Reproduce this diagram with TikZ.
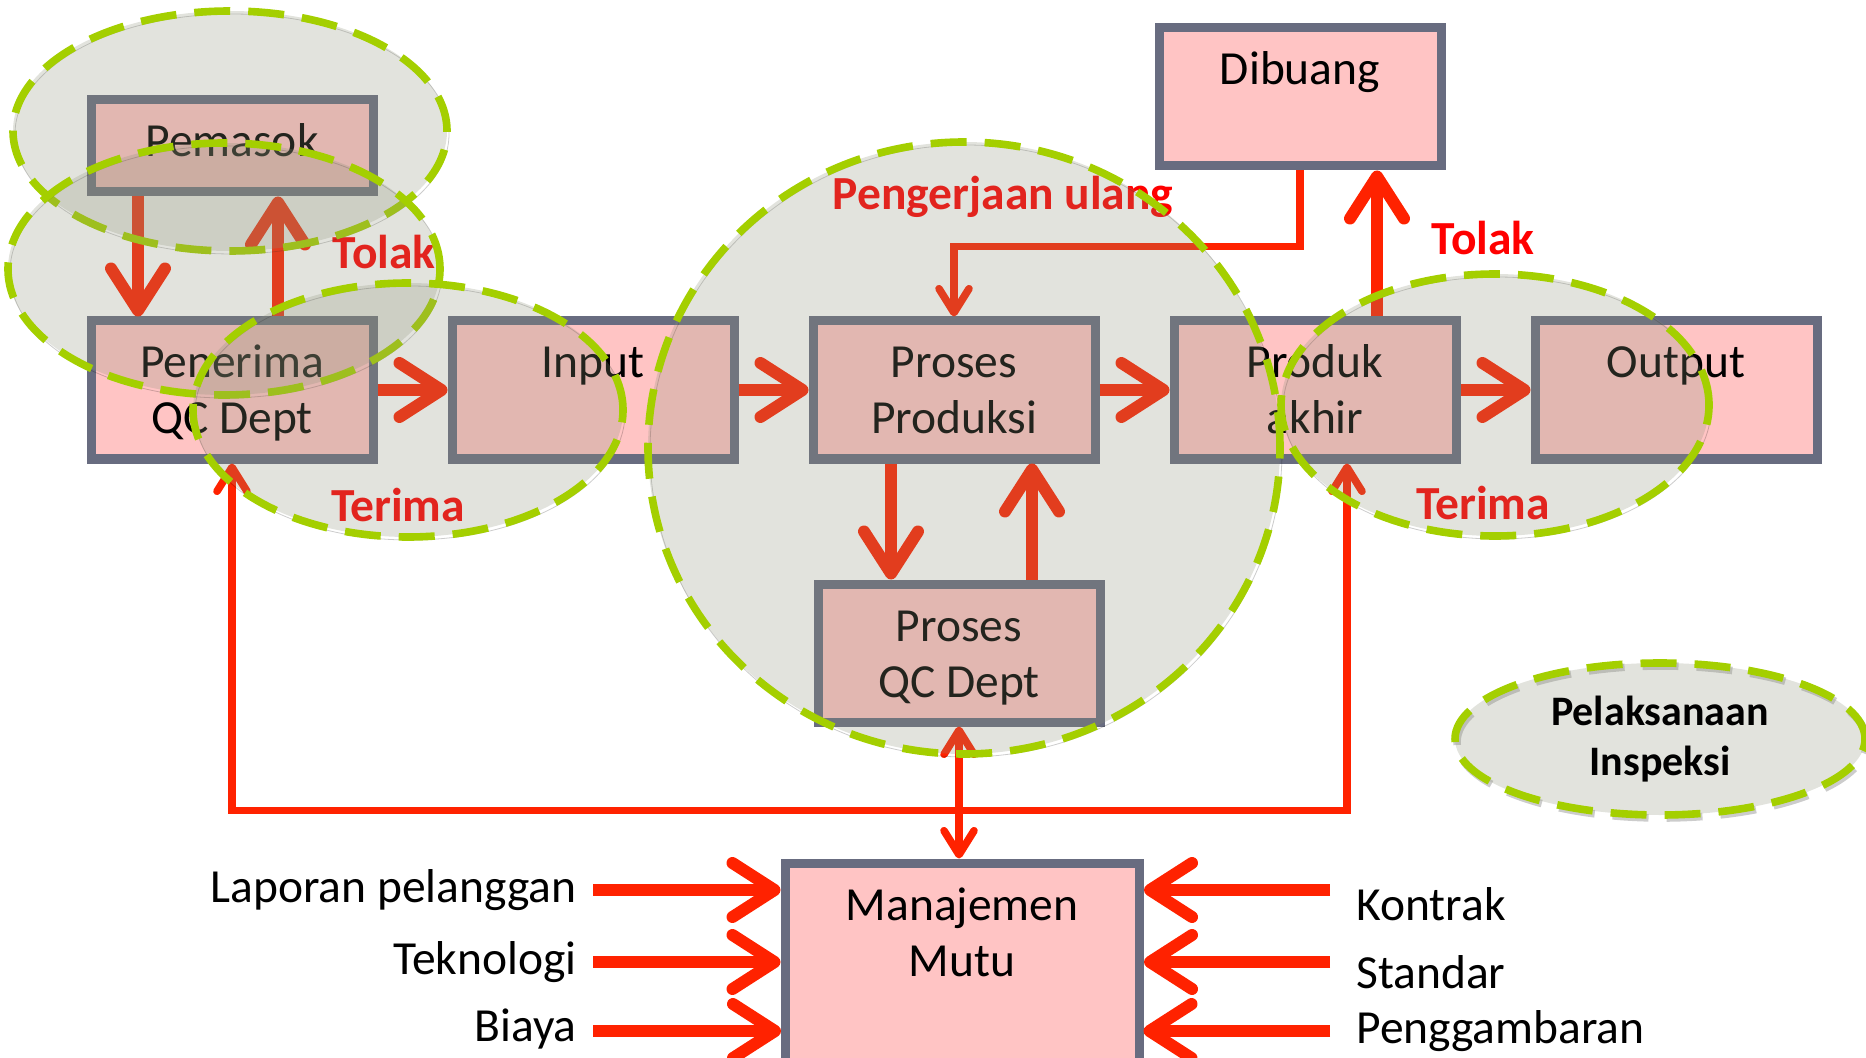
\documentclass[tikz,border=0pt]{standalone}
\usepackage{fontspec}
\setmainfont{Carlito}
\usepackage{xcolor}
\usetikzlibrary{arrows.meta,positioning,calc,shapes.geometric}

\definecolor{boxfill}{RGB}{255,196,196}
\definecolor{boxline}{RGB}{104,108,128}
\definecolor{arrowred}{RGB}{255,34,0}
\definecolor{labelred}{RGB}{255,0,0}
\definecolor{zonegreen}{RGB}{164,207,0}
\definecolor{zonegray}{RGB}{141,145,121}

\tikzset{
  bigtip/.tip={Straight Barb[length=21pt,width=27pt,round]},
  thintip/.tip={Straight Barb[length=12pt,width=15pt,round]},
  box/.style={draw=boxline,fill=boxfill,line width=4.5pt,inner sep=0pt,
    minimum width=141pt,align=center,text height=28.5pt,text depth=40.5pt,
    font=\fontsize{23.75}{28}\selectfont},
  twolines/.style={text height=56.5pt,text depth=12.5pt},
  bigarrow/.style={draw=arrowred,line width=6pt,-bigtip},
  thinarrow/.style={draw=arrowred,line width=3.8pt,-thintip},
  tag/.style={text=labelred,font=\bfseries\fontsize{23.75}{28}\selectfont},
  side/.style={inner xsep=8pt,font=\fontsize{23.75}{28}\selectfont},
  zone/.style={draw=zonegreen,line width=3.8pt,dash pattern=on 18pt off 9pt,
    fill=zonegray,fill opacity=0.25,
    preaction={draw=black,draw opacity=0.2,transform canvas={shift={(1pt,-1.5pt)}}}}
}

\begin{document}
\begin{tikzpicture}[x=0.5pt,y=-0.5pt]
\useasboundingbox (0,0) rectangle (1866,1058);

% kotak proses
\node[box,text depth=17.5pt] (pem) at (232,146) {Pemasok};
\node[box,twolines] (pen) at (232,390) {Penerima\\QC Dept};
\node[box,right=35pt of pen] (inp) {Input};
\node[box,twolines,right=35pt of inp] (pp) {Proses\\Produksi};
\node[box,twolines,right=35pt of pp] (prod) {Produk\\akhir};
\node[box,right=35pt of prod] (out) {Output};
\node[box] (dib) at (1300,97) {Dibuang};
\node[box,twolines,below=58pt of pp,xshift=2.5pt] (qc) {Proses\\QC Dept};
\node[box,minimum width=177pt,text height=56.5pt,text depth=56.5pt] (mm) at (962,976) {Manajemen\\Mutu};

% panah utama
\draw[bigarrow] ($(pem.south)+(-94,0)$) -- ($(pen.north)+(-94,0)$);
\draw[bigarrow] ($(pen.north)+(46,0)$) -- ($(pem.south)+(46,0)$);
\draw[bigarrow] (pen) -- (inp);
\draw[bigarrow] (inp) -- (pp);
\draw[bigarrow] (pp) -- (prod);
\draw[bigarrow] (prod) -- (out);
\draw[bigarrow] ($(pp.south)+(-63,0)$) -- ($(qc.north)+(-68,0)$);
\draw[bigarrow] ($(qc.north)+(73,0)$) -- ($(pp.south)+(78,0)$);
\draw[bigarrow] ($(prod.north)+(62,0)$) -- ($(dib.south)+(77,0)$);
\draw[thinarrow] (dib.south) -- ++(0,76) -| (pp.north);

% umpan balik
\coordinate (hub) at ($(qc.south)+(0,84)$);
\draw[thinarrow,thintip-thintip] (qc.south) -- (qc.south |- mm.north);
\draw[thinarrow] (hub) -| (pen.south);
\draw[thinarrow] (hub) -| ($(prod.south)+(32,0)$);

% masukan manajemen mutu
\node[side,anchor=east] (lap) at (593,890) {Laporan pelanggan};
\node[side,anchor=east] (tek) at (593,962) {Teknologi};
\node[side,anchor=east] (bia) at (593,1029) {Biaya};
\node[side,anchor=west,inner xsep=13pt] (kon) at (1330,904) {Kontrak};
\node[side,anchor=west,inner xsep=13pt] (sta) at (1330,972) {Standar};
\node[side,anchor=west,inner xsep=13pt] (peng) at (1330,1031) {Penggambaran};
\draw[bigarrow] (lap.east) -- (lap.east -| mm.west);
\draw[bigarrow] (tek.east) -- (tek.east -| mm.west);
\draw[bigarrow] ([yshift=-1pt]bia.east) -- ++(188,0);
\draw[bigarrow] ([yshift=7pt]kon.west) -- ++(-186,0);
\draw[bigarrow] ([yshift=5pt]sta.west) -- ++(-186,0);
\draw[bigarrow] (peng.west) -- (peng.west -| mm.east);

% keterangan
\node[tag] (tolak1) at (384,252) {Tolak};
\node[tag] (terima1) at (398,505) {Terima};
\node[tag] (ulang) at (1003,197) {Pengerjaan ulang};
\node[tag] (tolak2) at (1483,238) {Tolak};
\node[tag] (terima2) at (1483,503) {Terima};

% daerah inspeksi
\draw[zone] (230,131) ellipse [x radius=108.5pt,y radius=60pt];
\draw[zone] (224,269) ellipse [x radius=108pt,y radius=63pt];
\draw[zone] (408,410) ellipse [x radius=107.5pt,y radius=63.5pt];
\draw[zone] (964,448) ellipse [x radius=158pt,y radius=153pt];
\draw[zone] (1495,405) ellipse [x radius=107pt,y radius=65.5pt];
\node[zone,ellipse,minimum width=205pt,minimum height=76pt,text opacity=1,
  align=center,font=\bfseries\fontsize{21}{25}\selectfont] (insp) at (1660,739) {Pelaksanaan\\Inspeksi};
\end{tikzpicture}
\end{document}
